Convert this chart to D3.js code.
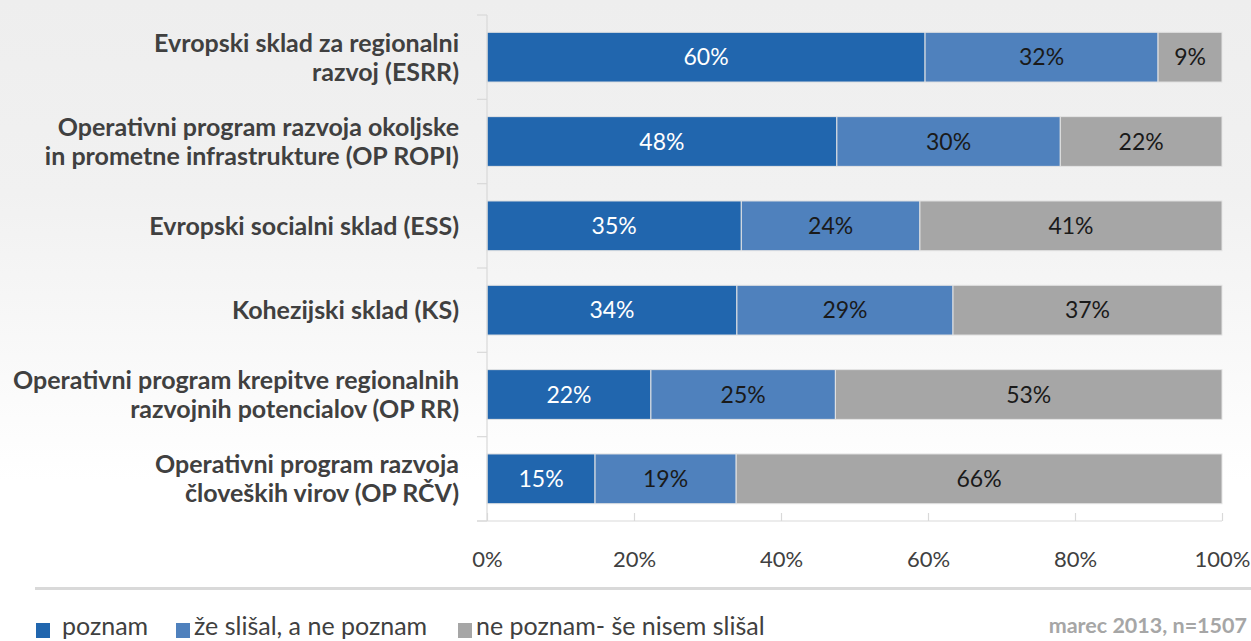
<!DOCTYPE html>
<html>
<head>
<meta charset="utf-8">
<script src="https://cdn.jsdelivr.net/npm/d3@7"></script>
<style>
  body { margin: 0; padding: 0; background: #fff; }
  svg { display: block; }
</style>
</head>
<body>
<div id="chart"></div>
<script>
// categories (label lines) top to bottom
var categories = [
    ["Evropski sklad za regionalni", "razvoj (ESRR)"],
    ["Operativni program razvoja okoljske", "in prometne infrastrukture (OP ROPI)"],
    ["Evropski socialni sklad (ESS)"],
    ["Kohezijski sklad (KS)"],
    ["Operativni program krepitve regionalnih", "razvojnih potencialov (OP RR)"],
    ["Operativni program razvoja", "človeških virov (OP RČV)"]
];
// series values, percent
var poznam = [59.6, 47.6, 34.6, 34.0, 22.3, 14.7];
var zeSlisal = [31.7, 30.4, 24.3, 29.4, 25.1, 19.2];
var nePoznam = [8.7, 22.0, 41.1, 36.6, 52.6, 66.1];
var seriesNames = ["poznam", "že slišal, a ne poznam", "ne poznam- še nisem slišal"];
var seriesColors = ["#2166ae", "#4f81bd", "#a6a6a6"];
var labelColors = ["#ffffff", "#1a1a1a", "#1a1a1a"];
var xTicks = [0, 20, 40, 60, 80, 100];
var note = "marec 2013, n=1507";

var width = 1251,
    height = 641;

var rows = categories.map(function (c, i) {
    return {key: i, s0: poznam[i], s1: zeSlisal[i], s2: nePoznam[i]};
});

var svg = d3.select("#chart").append("svg")
    .attr("width", width)
    .attr("height", height);

// background gradient
var grad = svg.append("defs").append("linearGradient")
    .attr("id", "bg")
    .attr("x1", 0).attr("y1", 0).attr("x2", 0).attr("y2", 1);
grad.append("stop").attr("offset", "0%").attr("stop-color", "#eeeeee");
grad.append("stop").attr("offset", "30%").attr("stop-color", "#f1f1f1");
grad.append("stop").attr("offset", "75%").attr("stop-color", "#ffffff");
grad.append("stop").attr("offset", "100%").attr("stop-color", "#ffffff");
svg.append("rect")
    .attr("width", width)
    .attr("height", height)
    .attr("fill", "url(#bg)");

var x = d3.scaleLinear()
    .domain([0, 100])
    .range([487, 1222]);

var y = d3.scaleBand()
    .domain(d3.range(categories.length))
    .range([15, 521])
    .paddingInner(0.41)
    .paddingOuter(0.205);

var stack = d3.stack().keys(["s0", "s1", "s2"]);
var stacked = stack(rows);

// bars
var layers = svg.selectAll(".layer")
    .data(stacked)
    .enter()
    .append("g")
    .attr("class", "layer")
    .attr("fill", function (d, i) { return seriesColors[i]; });

layers.selectAll("rect")
    .data(function (d) { return d; })
    .enter()
    .append("rect")
    .attr("x", function (d) { return x(d[0]); })
    .attr("y", function (d, i) { return y(i); })
    .attr("width", function (d) { return x(d[1]) - x(d[0]); })
    .attr("height", y.bandwidth())
    .attr("stroke", "#e4e4e4")
    .attr("stroke-width", 1);

// value labels
layers.each(function (layer, li) {
    d3.select(this).selectAll("text")
        .data(layer)
        .enter()
        .append("text")
        .attr("x", function (d) { return (x(d[0]) + x(d[1])) / 2; })
        .attr("y", function (d, i) { return y(i) + y.bandwidth() / 2 + 8; })
        .attr("text-anchor", "middle")
        .attr("font-family", "Lato, sans-serif")
        .attr("font-size", "23px")
        .attr("fill", labelColors[li])
        .text(function (d) { return Math.round(d[1] - d[0]) + "%"; });
});

// y axis line with category separators
var yLine = svg.append("g").attr("stroke", "#d9d9d9").attr("stroke-width", 1.2);
yLine.append("line")
    .attr("x1", x(0)).attr("x2", x(0))
    .attr("y1", y.range()[0]).attr("y2", y.range()[1]);
var seps = d3.range(categories.length + 1);
yLine.selectAll(".sep")
    .data(seps)
    .enter()
    .append("line")
    .attr("class", "sep")
    .attr("x1", x(0) - 10).attr("x2", x(0))
    .attr("y1", function (d) { return y.range()[0] + d * y.step(); })
    .attr("y2", function (d) { return y.range()[0] + d * y.step(); });

// x axis
var xAxis = d3.axisBottom(x)
    .tickValues(xTicks)
    .tickSize(-8)
    .tickFormat(function (d) { return d + "%"; });
var gx = svg.append("g")
    .attr("transform", "translate(0," + y.range()[1] + ")")
    .call(xAxis);
gx.select(".domain").attr("stroke", "#d9d9d9").attr("stroke-width", 1.2)
    .attr("d", "M" + (x(0) - 10) + ",0H" + x(100));
gx.selectAll(".tick line").attr("stroke", "#d9d9d9").attr("stroke-width", 1.2);
gx.selectAll(".tick text")
    .attr("y", 30)
    .attr("fill", "#404040")
    .attr("font-family", "Lato, sans-serif")
    .attr("font-size", "22px");

// category labels
var catLabels = svg.selectAll(".cat")
    .data(categories)
    .enter()
    .append("text")
    .attr("class", "cat")
    .attr("text-anchor", "end")
    .attr("font-family", "Lato, sans-serif")
    .attr("font-weight", "bold")
    .attr("font-size", "25px")
    .attr("fill", "#404040");
catLabels.each(function (lines, i) {
    var cy = y(i) + y.bandwidth() / 2;
    var lh = 29;
    var first = cy + 9 - (lines.length - 1) * lh / 2;
    d3.select(this).selectAll("tspan")
        .data(lines)
        .enter()
        .append("tspan")
        .attr("x", 459)
        .attr("y", function (d, j) { return first + j * lh; })
        .text(function (d) { return d; });
});

// separator above legend
svg.append("line")
    .attr("x1", 35).attr("x2", width)
    .attr("y1", 588.5).attr("y2", 588.5)
    .attr("stroke", "#d9d9d9")
    .attr("stroke-width", 3);

// legend
var legendX = [36, 176, 458];
var legend = svg.selectAll(".legend")
    .data(seriesNames)
    .enter()
    .append("g")
    .attr("class", "legend")
    .attr("transform", function (d, i) { return "translate(" + legendX[i] + ",623)"; });
legend.append("rect")
    .attr("width", 14)
    .attr("height", 15)
    .attr("fill", function (d, i) { return seriesColors[i]; });
legend.append("text")
    .attr("x", function (d, i) { return i === 0 ? 26 : 18; })
    .attr("y", 12)
    .attr("font-family", "Lato, sans-serif")
    .attr("font-size", "25px")
    .attr("fill", "#404040")
    .text(function (d) { return d; });

svg.append("text")
    .attr("x", 1247)
    .attr("y", 633)
    .attr("text-anchor", "end")
    .attr("font-family", "Lato, sans-serif")
    .attr("font-weight", "bold")
    .attr("font-size", "21.5px")
    .attr("fill", "#a6a6a6")
    .text(note);
</script>
</body>
</html>
